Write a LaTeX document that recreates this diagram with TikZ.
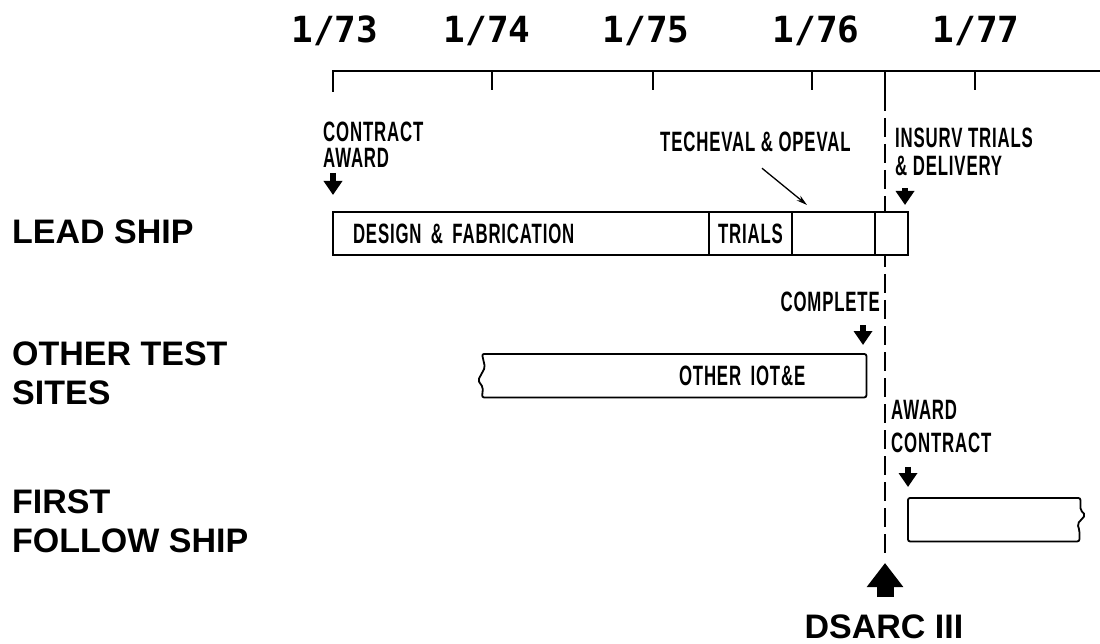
\documentclass[tikz,border=0pt]{standalone}
\usepackage{fontspec}
\setmainfont{Liberation Sans}
\newfontfamily\condfont{Liberation Sans}[FakeStretch=0.6, LetterSpace=3]
\newfontfamily\datefont{DejaVu Sans Mono}
\usetikzlibrary{arrows.meta,positioning,calc}

\begin{document}
\begin{tikzpicture}[
  x=1pt, y=-1pt,
  rowlbl/.style={font=\fontsize{34}{39}\selectfont\bfseries, align=left, anchor=north west, inner sep=0},
  datelbl/.style={font=\datefont\fontsize{36}{36}\selectfont\bfseries, anchor=base, inner sep=0},
  lbl/.style={font=\condfont\fontsize{28}{27}\selectfont\bfseries, align=left, inner sep=0},
  cell/.style={draw, fill=white, line width=1.8pt, minimum height=43pt, inner sep=0, outer sep=0, font=\condfont\fontsize{28}{28}\selectfont\bfseries},
  barline/.style={line width=1.8pt, rounded corners=2pt},
  axisline/.style={line width=1.8pt},
  dline/.style={line width=2.2pt, dash pattern=on 19pt off 7pt},
  darr/.style={line width=5.5pt, -{Triangle[width=18pt,length=14pt]}},
  uparr/.style={line width=17pt, -{Triangle[width=35pt,length=24pt]}},
  leader/.style={line width=1.3pt, -{Stealth[length=11pt,width=6pt]}}
]
\useasboundingbox (0,0) rectangle (1100,644);

% --- time axis
\node[datelbl] (d73) at (335,43) {1/73};
\node[datelbl] (d74) at (487,43) {1/74};
\node[datelbl] (d75) at (646,43) {1/75};
\node[datelbl] (d76) at (816,43) {1/76};
\node[datelbl] (d77) at (976,43) {1/77};
\draw[axisline] (333,92) -- (333,71) -- (1100,71);
\foreach \x in {492,653,812,975}
  \draw[axisline] (\x,71) -- (\x,90);

% --- DSARC III line
\coordinate (dtop) at (885,71);
\coordinate (dbot) at (885,557);
\draw[axisline] (dtop) -- ++(0,21) coordinate (dmid);
\draw[dline] (dmid) -- (dbot);
\node[font=\fontsize{34}{34}\selectfont\bfseries, anchor=north, inner sep=0] (dsarc) at (884,615) {DSARC III};
\draw[uparr, shorten <=18pt, shorten >=6pt] (dsarc.north -| dbot) -- (dbot);

% --- row labels
\node[rowlbl] (lead) at (12,220) {LEAD SHIP};
\node[rowlbl] (other) at (12,342) {OTHER TEST\\SITES};
\node[rowlbl] (first) at (12,490) {FIRST\\FOLLOW SHIP};

% --- lead ship
\node[cell, minimum width=376pt, text width=336pt, align=left, anchor=north west] (design) at (333,212) {DESIGN \& FABRICATION};
\node[cell, minimum width=83pt, right=0pt of design] (trials) {TRIALS};
\node[cell, minimum width=83pt, right=0pt of trials] (teop) {};
\node[cell, minimum width=33pt, right=0pt of teop] (insurv) {};

\node[lbl, anchor=north west, font=\condfont\fontsize{28}{26}\selectfont\bfseries] (award) at (323,122) {CONTRACT\\AWARD};
\draw[darr, shorten <=5pt, shorten >=17pt] (award.south -| design.west) -- (design.north west);

\node[lbl, anchor=north west] (tech) at (660,132) {TECHEVAL \& OPEVAL};
\draw[leader] ([xshift=102pt,yshift=-16pt]tech.south west) -- ($(teop.north west)+(15,-7)$);

\node[lbl, anchor=north west, font=\condfont\fontsize{28}{28}\selectfont\bfseries] (ins) at (895,128) {INSURV TRIALS\\\& DELIVERY};
\draw[darr, shorten <=12pt, shorten >=7pt] ([xshift=-3pt]insurv.north east |- ins.south) -- ([xshift=-3pt]insurv.north east);

% --- other test sites
\node[minimum width=386pt, minimum height=43pt, text width=264pt, align=right, inner sep=0, anchor=north west,
  font=\condfont\fontsize{28}{28}\selectfont\bfseries] (iot) at (480,354) {OTHER IOT\&E};
\draw[barline] ($(iot.north west)+(2,0)$) -- (iot.north east) -- (iot.south east) -- ($(iot.south west)+(2,0)$)
  -- ++(1,-10) -- ++(-5,-7) -- ++(7,-13) -- cycle;

\node[lbl, anchor=base east] (comp) at (880,312) {COMPLETE};
\draw[darr, shorten <=13pt, shorten >=9pt] (comp.base -| 863,0) -- (iot.north -| 863,0);

% --- first follow ship
\node[minimum width=172pt, minimum height=43pt, inner sep=0, anchor=north west] (follow) at (908,498) {};
\draw[barline] (follow.north east) -- ++(0,12) -- ++(5,5) -- ++(-8,9) -- ++(2,6) |- (follow.south west)
  -- (follow.north west) -- cycle;

\node[lbl, anchor=north west, font=\condfont\fontsize{28}{33}\selectfont\bfseries] (awc) at (891,400) {AWARD\\CONTRACT};
\draw[darr, shorten <=14pt, shorten >=11pt] (awc.south -| follow.west) -- (follow.north west);
\end{tikzpicture}
\end{document}
